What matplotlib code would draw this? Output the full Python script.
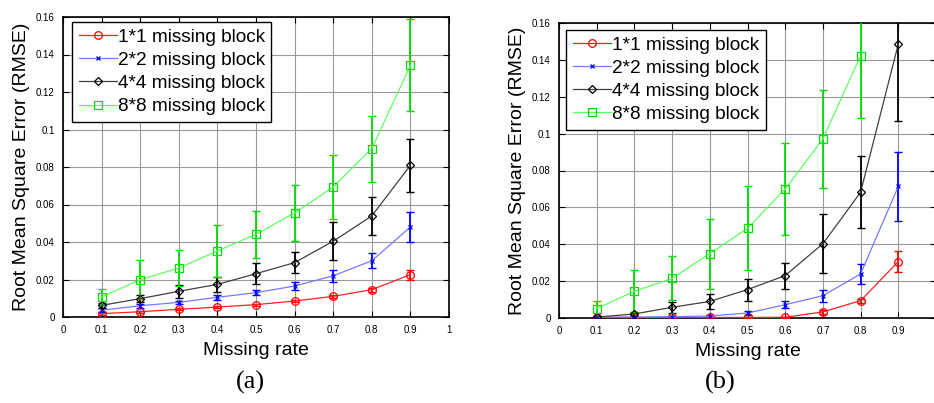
import numpy as np
import matplotlib
matplotlib.use("Agg")
import matplotlib.pyplot as plt
from matplotlib.ticker import FuncFormatter

plt.rcParams['font.family'] = ['Liberation Sans', 'DejaVu Sans']

rates = [0.1, 0.2, 0.3, 0.4, 0.5, 0.6, 0.7, 0.8, 0.9]
labels = ['1*1 missing block', '2*2 missing block', '4*4 missing block', '8*8 missing block']

# panel (a): mean RMSE and error (+/-)
a_1x1 = [0.0018, 0.0028, 0.0041, 0.0053, 0.0066, 0.0085, 0.0110, 0.0146, 0.0226]
a_1x1_err = [0.0005, 0.0005, 0.0005, 0.0005, 0.0006, 0.0006, 0.0007, 0.0010, 0.0027]
a_2x2 = [0.0036, 0.0060, 0.0078, 0.0105, 0.0130, 0.0165, 0.0220, 0.0300, 0.0480]
a_2x2_err = [0.0010, 0.0010, 0.0010, 0.0012, 0.0015, 0.0020, 0.0033, 0.0040, 0.0080]
a_4x4 = [0.0062, 0.0098, 0.0137, 0.0174, 0.0231, 0.0290, 0.0404, 0.0539, 0.0809]
a_4x4_err = [0.0015, 0.0020, 0.0035, 0.0040, 0.0056, 0.0056, 0.0102, 0.0100, 0.0142]
a_8x8 = [0.0107, 0.0199, 0.0261, 0.0352, 0.0441, 0.0555, 0.0693, 0.0898, 0.1342]
a_8x8_err = [0.0044, 0.0103, 0.0095, 0.0137, 0.0125, 0.0149, 0.0170, 0.0176, 0.0245]

# panel (b)
b_1x1 = [0.0003, 0.0003, 0.0003, 0.0003, 0.0003, 0.0004, 0.0033, 0.0094, 0.0306]
b_1x1_err = [0.0002, 0.0002, 0.0002, 0.0002, 0.0002, 0.0002, 0.0010, 0.0010, 0.0056]
b_2x2 = [0.0005, 0.0005, 0.0007, 0.0011, 0.0027, 0.0072, 0.0121, 0.0239, 0.0714]
b_2x2_err = [0.0003, 0.0003, 0.0003, 0.0003, 0.0010, 0.0020, 0.0032, 0.0052, 0.0188]
b_4x4 = [0.0005, 0.0022, 0.0058, 0.0090, 0.0154, 0.0230, 0.0403, 0.0682, 0.1486]
b_4x4_err = [0.0003, 0.0010, 0.0030, 0.0040, 0.0060, 0.0070, 0.0160, 0.0196, 0.0416]
b_8x8 = [0.0051, 0.0145, 0.0215, 0.0349, 0.0486, 0.0700, 0.0971, 0.1423, np.nan]
b_8x8_err = [0.0040, 0.0114, 0.0120, 0.0190, 0.0228, 0.0250, 0.0267, 0.0340, np.nan]

styles = [
    dict(marker='o', color='#ff0000', line='#ff2020', ms=5.5),
    dict(marker='x', color='#0000ff', line='#7878ff', ms=3.5),
    dict(marker='D', color='#000000', line='#404040', ms=4.5),
    dict(marker='s', color='#00dd00', line='#60ff60', ms=6),
]


def draw_panel(ax, series, errs, xticks):
    for y, e, lab, st in zip(series, errs, labels, styles):
        ax.errorbar(rates, y, yerr=e, fmt='none', ecolor=st['color'],
                    elinewidth=1.3, capsize=3, capthick=1.0, zorder=3)
        ax.plot(rates, y, color=st['line'], lw=0.9, marker=st['marker'],
                ms=st['ms'], mfc='none', mec=st['color'], mew=0.9,
                label=lab, zorder=4)
    ax.set_xlim(0, 1)
    ax.set_ylim(0, 0.16)
    ax.set_xticks(xticks)
    ax.set_yticks(np.arange(0, 0.161, 0.02))
    fmt = FuncFormatter(lambda v, p: '%g' % round(v, 2))
    ax.xaxis.set_major_formatter(fmt)
    ax.yaxis.set_major_formatter(fmt)
    ax.grid(True, color='#999999', lw=0.8)
    ax.set_axisbelow(True)
    ax.tick_params(direction='in', length=4, width=0.8, top=True, right=True,
                   labelsize=7, pad=6)
    for s in ax.spines.values():
        s.set_linewidth(1.2)
    ax.set_xlabel('Missing rate', fontsize=14, labelpad=5)
    ax.set_ylabel('Root Mean Square Error (RMSE)', fontsize=14, labelpad=4)


def add_legend(ax, anchor):
    leg = ax.legend(loc='upper left', bbox_to_anchor=anchor, fontsize=13.7,
                    fancybox=False, edgecolor='black', framealpha=1,
                    borderaxespad=0, handlelength=2.0, labelspacing=0.3,
                    borderpad=0.35, handletextpad=0.05)
    leg.get_frame().set_linewidth(1.0)


fig = plt.figure(figsize=(9.34, 4.03), dpi=100)

ax1 = fig.add_axes([63 / 934, 86 / 403, 386 / 934, 300 / 403])
draw_panel(ax1, [a_1x1, a_2x2, a_4x4, a_8x8],
           [a_1x1_err, a_2x2_err, a_4x4_err, a_8x8_err],
           np.arange(0, 1.01, 0.1))
add_legend(ax1, (0.023, 0.983))

ax2 = fig.add_axes([559 / 934, 85 / 403, 377 / 934, 295 / 403])
draw_panel(ax2, [b_1x1, b_2x2, b_4x4, b_8x8],
           [b_1x1_err, b_2x2_err, b_4x4_err, b_8x8_err],
           np.arange(0, 0.91, 0.1))
add_legend(ax2, (0.019, 0.976))

fig.text(250 / 934, 1 - 382 / 403, '(a)', family='Liberation Serif',
         fontsize=19, ha='center', va='center')
fig.text(720 / 934, 1 - 382 / 403, '(b)', family='Liberation Serif',
         fontsize=19, ha='center', va='center')

fig.savefig('out.png', dpi=100)
